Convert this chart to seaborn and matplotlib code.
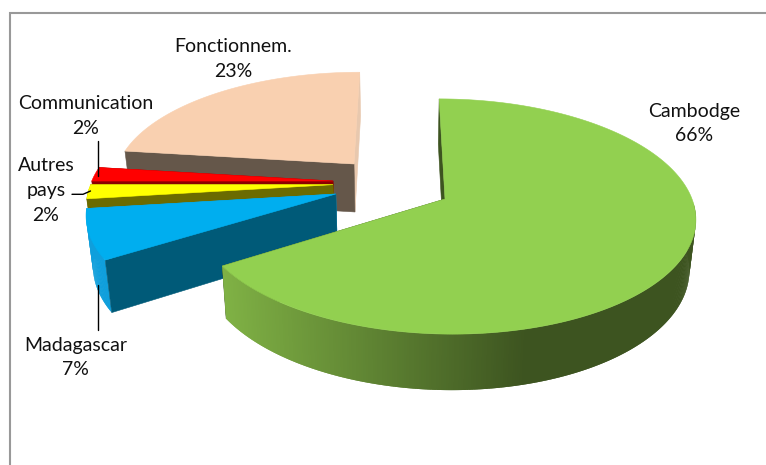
import numpy as np
import matplotlib
matplotlib.use("Agg")
import matplotlib.pyplot as plt
from matplotlib.patches import Polygon
import seaborn as sns

# ---- data
categories = ["Cambodge", "Madagascar", "Autres\npays", "Communication", "Fonctionnem."]
shares = [66, 7, 2, 2, 23]

# ---- styles
top_colors = ["#92d050", "#00aeef", "#ffff00", "#ff0000", "#f9d0b0"]
wall_colors = ["#3d5420", "#005a78", "#6b6b00", "#8b0000", "#65574a"]
far_colors = ["#3d5420", "#0f9fdc", "#6b6b00", "#8b0000", "#e8c8ae"]
explode_x = [45.0, -64.6, -68.3, -68.6, -48.2]
explode_depth = [0.0, 0.0437, 0.127, 0.16, 0.319]
draw_order = [4, 3, 2, 1, 0]

sns.set_theme(style="white")
plt.rcParams["font.family"] = ["Lato", "DejaVu Sans"]

RADIUS = 247.0
VIEW_X, VIEW_Y = 400.0, 199.0
TILT, PERSP = 115.0, 0.149


def top_point(theta, i):
    t = np.radians(theta)
    x_w = explode_x[i] + RADIUS * np.sin(t)
    eta = explode_depth[i] + np.cos(t)
    w = 1.0 / (1.0 + PERSP * eta)
    return VIEW_X + x_w * w, VIEW_Y - TILT * eta * w


def apex(i):
    eta = explode_depth[i]
    w = 1.0 / (1.0 + PERSP * eta)
    return VIEW_X + explode_x[i] * w, VIEW_Y - TILT * eta * w


def lower(p):
    x, y = p
    return VIEW_X + (x - VIEW_X) * 0.978, y + 48 + 0.047 * (y - 164)


def shade_green(x):
    f = np.clip((x - 222) / (527 - 222), 0, 1)
    a, b = np.array([0x80, 0xb2, 0x45]), np.array([0x3d, 0x54, 0x20])
    return tuple((a + (b - a) * f) / 255)


fig = plt.figure(figsize=(7.66, 4.65), dpi=100, facecolor="white")
ax = fig.add_axes([0, 0, 1, 1])
ax.set_xlim(0, 766)
ax.set_ylim(465, 0)
ax.axis("off")

# chart frame
ax.plot([9.5, 9.5, 766], [465, 13, 13], color="#999999", lw=1.5, solid_joinstyle="miter")

edges = np.concatenate([[0], np.cumsum(shares)]) / np.sum(shares) * 360.0


def face(pts, color, lw=0.4):
    ax.add_patch(Polygon(pts, closed=True, facecolor=color,
                         edgecolor=color if lw else "none", lw=lw))


for i in draw_order:
    t1, t2 = edges[i], edges[i + 1]
    thetas = np.linspace(t1, t2, max(int((t2 - t1) * 2), 4) + 1)
    c = apex(i)
    # far radial wall
    p = top_point(t2, i)
    face([c, p, lower(p), lower(c)], far_colors[i])
    # outer rim, front part only; each strip overlaps the next to avoid seams
    step = thetas[1] - thetas[0]
    for a in thetas[:-1]:
        if np.cos(np.radians(a)) > -0.03:
            continue
        b = min(a + 2 * step, t2)
        pa, pb = top_point(a, i), top_point(b, i)
        col = shade_green(pa[0]) if i == 0 else far_colors[i]
        face([pa, pb, lower(pb), lower(pa)], col, lw=0)
    # near radial wall
    p = top_point(t1, i)
    face([c, p, lower(p), lower(c)], wall_colors[i])
    # top face
    face([c] + [top_point(t, i) for t in thetas], top_colors[i])

# leader lines
ax.plot([98, 98], [141, 176], color="black", lw=1)
ax.plot([72, 83, 90.5], [194.3, 194.3, 191], color="black", lw=1)
ax.plot([98, 98], [285, 330], color="black", lw=1)

# labels
label_pos = [(694, 123.5), (75.5, 357.5), (46, 190.5), (85.5, 116), (233.5, 59)]
for name, share, (x, y) in zip(categories, shares, label_pos):
    ax.text(x, y, f"{name}\n{share}%", ha="center", va="center", fontsize=14,
            color="#111111", linespacing=1.56)

fig.savefig("out.png", dpi=100)
